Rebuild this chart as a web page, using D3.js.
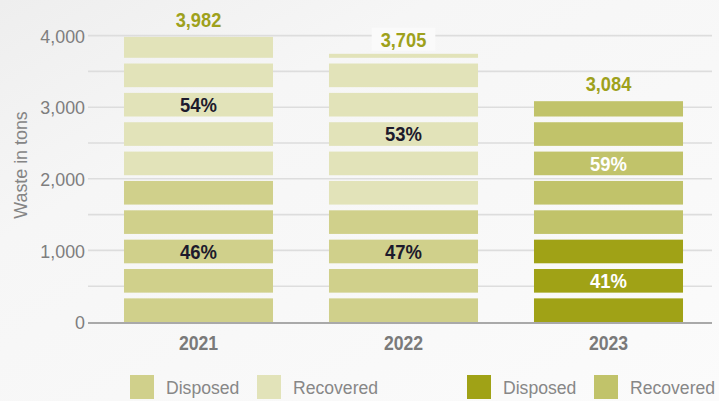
<!DOCTYPE html>
<html><head><meta charset="utf-8">
<script src="https://cdn.jsdelivr.net/npm/d3@7"></script>
<style>
html,body{margin:0;padding:0;background:#f5f5f5;}
svg{display:block;}
</style></head>
<body>
<svg id="chart" width="719" height="401"></svg>
<script>
// ---- data ----
const years = ["2021", "2022", "2023"];
const totals = [3982, 3705, 3084];
const disposedPct = [46, 47, 41];
const recoveredPct = [54, 53, 59];
const yTicks = [0, 1000, 2000, 3000, 4000];
const gridTicks = [0, 500, 1000, 1500, 2000, 2500, 3000, 3500, 4000];
const legendItems = ["Disposed", "Recovered", "Disposed", "Recovered"];
const axisTitle = "Waste in tons";

// ---- style ----
const FONT = "'Liberation Sans',Arial,sans-serif";
const colDisposed = ["#d0d08b", "#d0d08b", "#a0a216"];
const colRecovered = ["#e2e3b9", "#e2e3b9", "#c1c36a"];
const pctColor = ["#1d1a2c", "#1d1a2c", "#ffffff"];
const legendColors = ["#d0d08b", "#e2e3b9", "#a0a216", "#c1c36a"];
const SEG_STEP = 410, SEG_GAP = 80; // tons

// horizontally condense text to imitate a condensed typeface
function condense(sel, k) {
  sel.each(function () {
    const L = this.getComputedTextLength();
    d3.select(this).attr("textLength", L * k).attr("lengthAdjust", "spacingAndGlyphs");
  });
}

const svg = d3.select("#chart");
const W = 719, H = 401;

// background
const defs = svg.append("defs");
const bg = defs.append("linearGradient").attr("id", "bg").attr("x1", 0).attr("y1", 0).attr("x2", 1).attr("y2", 1);
bg.append("stop").attr("offset", "0%").attr("stop-color", "#eeeeee");
bg.append("stop").attr("offset", "30%").attr("stop-color", "#f6f6f6");
bg.append("stop").attr("offset", "100%").attr("stop-color", "#fbfbfb");
svg.append("rect").attr("width", W).attr("height", H).attr("fill", "url(#bg)");

const y = d3.scaleLinear().domain([0, 4000]).range([322, 35.6]);
const x = d3.scaleBand().domain(years).range([96, 711]).paddingInner(0.273).paddingOuter(0.1365);

// gridlines
svg.append("g").selectAll("line").data(gridTicks.filter(d => d > 0)).join("line")
  .attr("x1", 88).attr("x2", 712)
  .attr("y1", d => y(d)).attr("y2", d => y(d))
  .attr("stroke", "#dddddd").attr("stroke-width", 1.6);

// y axis labels via axis
const yAxis = d3.axisLeft(y).tickValues(yTicks).tickFormat(d3.format(",")).tickSize(0).tickPadding(0);
const gy = svg.append("g").attr("transform", "translate(85,0)").call(yAxis);
gy.select(".domain").remove();
gy.selectAll("text").attr("font-family", FONT).attr("font-size", 18.6).attr("fill", "#7e7e7e").attr("dy", "0.36em")
  .call(condense, 0.96);

// axis title
svg.append("text").attr("transform", "translate(27,165) rotate(-90)")
  .attr("text-anchor", "middle").attr("font-family", FONT).attr("font-size", 18.6)
  .attr("fill", "#858585").text(axisTitle).call(condense, 0.96);

// bars made of segments
years.forEach((yr, i) => {
  const total = totals[i];
  const disp = total * disposedPct[i] / 100;
  const nSeg = Math.ceil(total / SEG_STEP);
  const segs = [];
  for (let k = 0; k < nSeg; k++) {
    const lo = k * SEG_STEP;
    const hi = Math.min((k + 1) * SEG_STEP - SEG_GAP, total);
    const midFull = (lo + (k + 1) * SEG_STEP - SEG_GAP) / 2;
    segs.push({ k, lo, hi, disposed: midFull < disp });
  }
  const g = svg.append("g");
  g.selectAll("rect").data(segs).join("rect")
    .attr("x", x(yr)).attr("width", x.bandwidth())
    .attr("y", d => Math.min(y(d.hi), y(d.lo) - 4))
    .attr("height", d => Math.max(y(d.lo) - y(d.hi), 4))
    .attr("fill", d => d.disposed ? colDisposed[i] : colRecovered[i]);

  // percentage labels: segment containing midpoint of each part
  const parts = [
    { pct: disposedPct[i], mid: disp / 2 },
    { pct: recoveredPct[i], mid: (disp + total) / 2 }
  ];
  parts.forEach(p => {
    const k = Math.floor(p.mid / SEG_STEP);
    const c = (k * SEG_STEP + (k + 1) * SEG_STEP - SEG_GAP) / 2;
    g.append("text").attr("x", x(yr) + x.bandwidth() / 2).attr("y", y(c))
      .attr("dy", "0.36em").attr("text-anchor", "middle")
      .attr("font-family", FONT).attr("font-weight", "bold").attr("font-size", 20.5)
      .attr("fill", pctColor[i]).text(p.pct + "%").call(condense, 0.9);
  });

  // total label, with a halo box where it crosses a gridline
  const cx = x(yr) + x.bandwidth() / 2;
  const by = y(total) - 10;
  const t = g.append("text").attr("x", cx).attr("y", by).attr("text-anchor", "middle")
    .attr("font-family", FONT).attr("font-weight", "bold").attr("font-size", 20.5)
    .attr("fill", "#9ea11c").text(d3.format(",")(total)).call(condense, 0.89);
  const bb = t.node().getBBox();
  const crosses = gridTicks.some(v => y(v) > bb.y && y(v) < bb.y + bb.height);
  if (crosses) {
    g.insert("rect", "text").attr("x", bb.x - 9).attr("y", bb.y).attr("width", bb.width + 18).attr("height", bb.height)
      .attr("fill", "#fafafa");
  }
});

// baseline
svg.append("line").attr("x1", 88).attr("x2", 712).attr("y1", y(0) + 1).attr("y2", y(0) + 1)
  .attr("stroke", "#a9a9a9").attr("stroke-width", 2.2);

// x axis labels
const xAxis = d3.axisBottom(x).tickSize(0).tickPadding(0);
const gx = svg.append("g").attr("transform", "translate(0,350)").call(xAxis);
gx.select(".domain").remove();
gx.selectAll("text").attr("dy", 0).attr("font-family", FONT).attr("font-weight", "bold")
  .attr("font-size", 20.5).attr("fill", "#7a7a7a").call(condense, 0.86);

// legend
const legX = [130, 257, 467, 594];
const lg = svg.append("g");
legendItems.forEach((name, i) => {
  lg.append("rect").attr("x", legX[i]).attr("y", 375).attr("width", 24).attr("height", 24).attr("fill", legendColors[i]);
  lg.append("text").attr("x", legX[i] + 36).attr("y", 388).attr("dy", "0.36em")
    .attr("font-family", FONT).attr("font-size", 17.6).attr("fill", "#878787").text(name);
});
</script>
</body></html>
